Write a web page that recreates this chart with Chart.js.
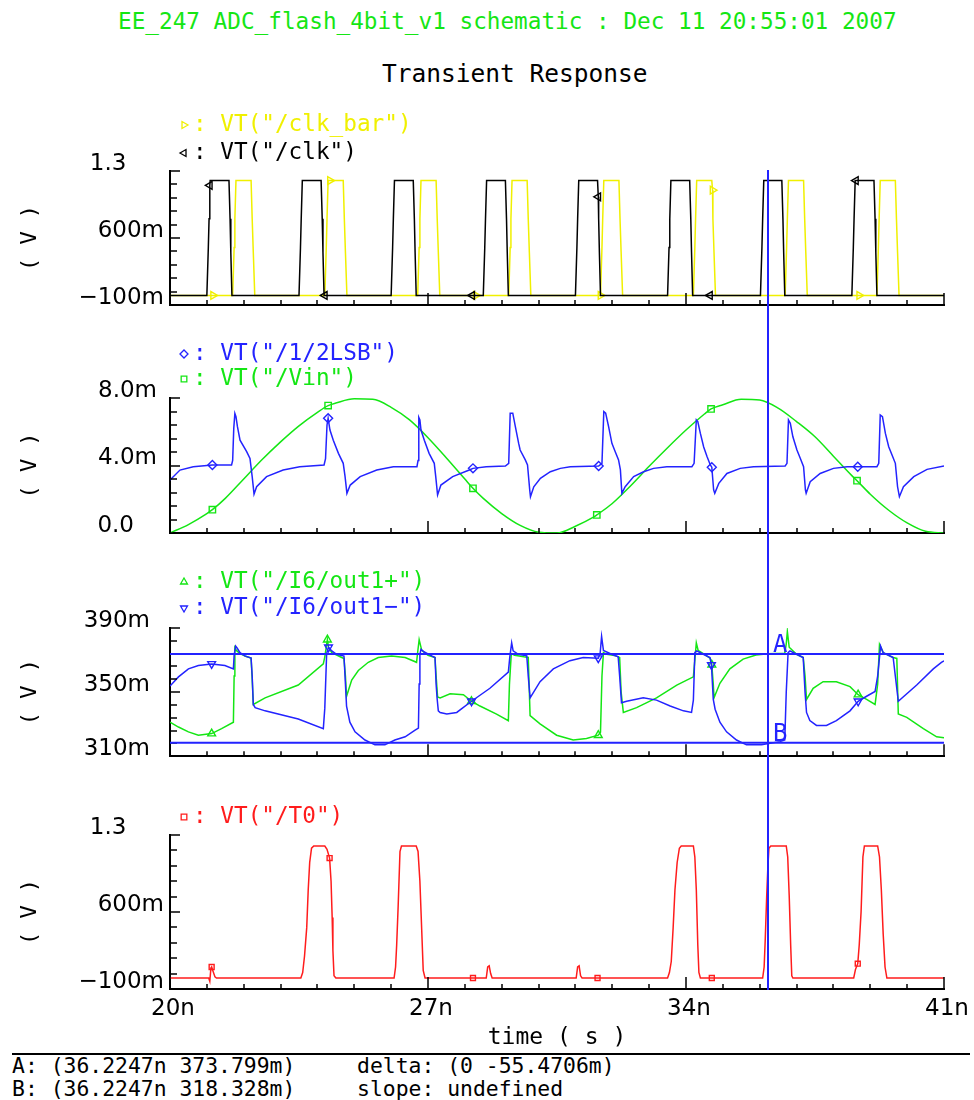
<!DOCTYPE html>
<html>
<head>
<meta charset="utf-8">
<script src="https://cdn.jsdelivr.net/npm/chart.js@4.4.0/dist/chart.umd.min.js"></script>
<style>
  body { margin: 0; background: #fff; }
  #page { position: relative; width: 974px; height: 1100px; overflow: hidden; font-family: "DejaVu Sans Mono", monospace; }
  .txt { position: absolute; white-space: pre; line-height: 1; }
  canvas { position: absolute; left: 0; }
</style>
</head>
<body>
<div id="page">
  <div class="txt" style="left:118px;top:10px;font-size:22.7px;color:#14e614">EE_247 ADC_flash_4bit_v1 schematic : Dec 11 20:55:01 2007</div>
  <div class="txt" style="left:382px;top:62px;font-size:24.5px;color:#000">Transient Response</div>

  <canvas id="clkPanel" width="974" height="235" style="top:95px"></canvas>
  <canvas id="vinPanel" width="974" height="230" style="top:330px"></canvas>
  <canvas id="outPanel" width="974" height="230" style="top:560px"></canvas>
  <canvas id="t0Panel" width="974" height="262" style="top:790px"></canvas>

  <div style="position:absolute;left:12px;top:1053px;width:958px;border-top:2px solid #000"></div>
  <div class="txt" id="markA" style="left:12px;top:1055px;font-size:21.4px"></div>
  <div class="txt" id="markB" style="left:12px;top:1078px;font-size:21.4px"></div>
  <div class="txt" style="left:357px;top:1055px;font-size:21.4px">delta: (0 -55.4706m)</div>
  <div class="txt" style="left:357px;top:1078px;font-size:21.4px">slope: undefined</div>
</div>

<script>
// ---- shared time axis (ns) ----
const timeTicks = [20, 21, 22, 23, 24, 25, 26, 27, 28, 29, 30, 31, 32, 33, 34, 35, 36, 37, 38, 39, 40, 41];
const timeLabelTicks = [20, 27, 34, 41];
const timeLabels = ['20n', '27n', '34n', '41n'];

// cursor position and the two marked points on out1-/out1+ (mV)
const cursorT = 36.2247;
const cursorA = 373.799;
const cursorB = 318.328;

const GREEN = '#14e614';
const BLUE = '#2323ff';
const YELLOW = '#f0f000';
const RED = '#ff1c1c';
const BLACK = '#000000';

// ---- panel 1: clocks (V) ----
const clkBarPoints = [
  [20, 0], [21.17, 0],
  [21.7, 0], [21.74, 0.5], [21.76, 0.8], [21.79, 1.2], [22.2, 1.2], [22.23, 0.8], [22.26, 0.45], [22.3, 0],
  [24.2, 0], [24.24, 0.5], [24.26, 0.8], [24.29, 1.2], [24.34, 1.2], [24.7, 1.2], [24.73, 0.8], [24.76, 0.45], [24.8, 0],
  [26.72, 0], [26.76, 0.5], [26.78, 0.8], [26.81, 1.2], [27.22, 1.2], [27.25, 0.8], [27.28, 0.45], [27.32, 0],
  [28.3, 0],
  [29.19, 0], [29.23, 0.5], [29.25, 0.8], [29.28, 1.2], [29.69, 1.2], [29.72, 0.8], [29.75, 0.45], [29.79, 0],
  [31.68, 0], [31.72, 0.5], [31.74, 0.8], [31.77, 1.2], [32.18, 1.2], [32.21, 0.8], [32.24, 0.45], [32.28, 0],
  [34.2, 0], [34.24, 0.5], [34.26, 0.8], [34.29, 1.2], [34.7, 1.2], [34.72, 1.1], [34.73, 0.8], [34.76, 0.45], [34.8, 0],
  [36.69, 0], [36.73, 0.5], [36.75, 0.8], [36.78, 1.2], [37.19, 1.2], [37.22, 0.8], [37.25, 0.45], [37.29, 0],
  [38.7, 0],
  [39.18, 0], [39.22, 0.5], [39.24, 0.8], [39.27, 1.2], [39.68, 1.2], [39.71, 0.8], [39.74, 0.45], [39.78, 0],
  [41, 0]
];
const clkBarMarks = [21.17, 24.34, 28.3, 31.68, 34.72, 38.7];

const clkPoints = [
  [20, 0],
  [21.0, 0], [21.04, 0.5], [21.06, 0.8], [21.08, 1.15], [21.09, 1.2], [21.6, 1.2], [21.63, 0.8], [21.65, 0.45], [21.68, 0],
  [23.5, 0], [23.54, 0.5], [23.56, 0.8], [23.59, 1.2], [24.1, 1.2], [24.13, 0.8], [24.15, 0.45], [24.18, 0], [24.2, 0],
  [26.0, 0], [26.04, 0.5], [26.06, 0.8], [26.09, 1.2], [26.6, 1.2], [26.63, 0.8], [26.65, 0.45], [26.68, 0],
  [28.2, 0],
  [28.5, 0], [28.54, 0.5], [28.56, 0.8], [28.59, 1.2], [29.1, 1.2], [29.13, 0.8], [29.15, 0.45], [29.18, 0],
  [31.0, 0], [31.04, 0.5], [31.06, 0.8], [31.09, 1.2], [31.6, 1.2], [31.62, 1.03], [31.63, 0.8], [31.65, 0.45], [31.68, 0],
  [33.5, 0], [33.54, 0.5], [33.56, 0.8], [33.59, 1.2], [34.1, 1.2], [34.13, 0.8], [34.15, 0.45], [34.18, 0],
  [34.65, 0],
  [36.02, 0], [36.06, 0.5], [36.08, 0.8], [36.11, 1.2], [36.6, 1.2], [36.63, 0.8], [36.65, 0.45], [36.68, 0],
  [38.5, 0], [38.54, 0.5], [38.56, 0.8], [38.59, 1.2], [38.61, 1.2], [39.1, 1.2], [39.13, 0.8], [39.15, 0.45], [39.18, 0],
  [41, 0]
];
const clkMarks = [21.08, 24.2, 28.2, 31.62, 34.65, 38.61];

// ---- panel 2: reference and input (mV) ----
const lsbPoints = [
  [20, 3.14], [20.27, 3.73], [20.63, 3.93], [21.15, 4.03], [21.67, 4.03],
  [21.7, 4.3], [21.73, 6.2], [21.76, 7.09], [21.79, 6.9], [21.83, 6.3], [21.9, 5.5], [22.08, 4.82], [22.17, 4.42], [22.23, 3.34], [22.28, 2.3],
  [22.35, 2.74], [22.62, 3.34], [23.07, 3.73], [23.52, 3.93], [24.18, 4.03],
  [24.22, 4.4], [24.26, 6.4], [24.29, 6.8], [24.34, 6.1], [24.43, 5.5], [24.57, 4.72], [24.7, 4.13], [24.75, 3.34], [24.8, 2.35],
  [24.89, 2.84], [25.16, 3.34], [25.61, 3.73], [26.06, 3.93], [26.7, 3.93],
  [26.73, 4.3], [26.75, 6.85], [26.78, 6.7], [26.81, 6.1], [26.9, 5.5], [27.03, 4.72], [27.17, 4.13], [27.21, 3.34], [27.26, 2.25],
  [27.35, 2.84], [27.67, 3.34], [28.12, 3.73], [28.22, 3.83], [28.58, 3.93], [29.1, 3.97],
  [29.19, 4.13], [29.23, 7.1], [29.3, 7.1], [29.37, 6.3], [29.46, 5.31], [29.5, 4.92], [29.64, 4.33], [29.7, 4.03], [29.76, 2.55], [29.78, 2.15],
  [29.87, 2.74], [30.05, 3.24], [30.32, 3.63], [30.59, 3.83], [30.86, 3.93], [31.63, 3.97],
  [31.72, 4.13], [31.77, 7.19], [31.82, 7.1], [31.9, 6.3], [31.99, 5.31], [32.08, 4.82], [32.17, 4.33], [32.22, 3.74], [32.26, 2.35],
  [32.35, 2.74], [32.58, 3.34], [32.85, 3.63], [33.12, 3.83], [33.48, 3.93], [34.16, 3.93],
  [34.22, 4.13], [34.28, 6.7], [34.32, 6.6], [34.39, 5.9], [34.48, 5.1], [34.57, 4.53], [34.66, 4.03], [34.7, 3.9], [34.75, 2.55], [34.78, 2.35],
  [34.89, 2.94], [35.11, 3.53], [35.47, 3.83], [35.83, 3.93], [36.69, 3.97],
  [36.74, 4.13], [36.78, 6.7], [36.83, 6.5], [36.9, 5.7], [37.01, 4.92], [37.1, 4.43], [37.19, 3.93], [37.24, 2.55], [37.26, 2.35],
  [37.37, 3.04], [37.64, 3.53], [38.0, 3.83], [38.37, 3.93], [38.66, 3.93], [39.18, 3.93],
  [39.23, 4.13], [39.27, 7.0], [39.33, 6.9], [39.41, 5.9], [39.5, 5.11], [39.59, 4.62], [39.68, 4.13], [39.74, 2.74], [39.79, 2.15],
  [39.9, 2.74], [40.18, 3.34], [40.54, 3.77], [41, 3.97]
];
const lsbMarks = [21.15, 24.29, 28.22, 31.63, 34.7, 38.66];

const vinPoints = [
  [20.0, 0.00], [20.5, 0.50], [21.0, 1.15], [21.15, 1.38], [21.5, 2.05], [22.0, 3.20], [22.5, 4.35], [23.0, 5.40],
  [23.5, 6.35], [24.0, 7.15], [24.29, 7.55], [24.5, 7.70], [25.0, 7.95], [25.5, 7.92], [26.0, 7.45], [26.5, 6.70],
  [27.0, 5.65], [27.5, 4.45], [28.0, 3.20], [28.22, 2.65], [28.5, 2.05], [29.0, 1.15], [29.5, 0.45], [30.0, 0.05],
  [30.5, 0.00], [31.0, 0.40], [31.5, 0.95], [31.58, 1.07], [32.0, 1.75], [32.5, 2.80], [33.0, 3.95], [33.5, 5.05],
  [34.0, 6.10], [34.5, 7.05], [34.68, 7.35], [35.0, 7.60], [35.5, 7.92], [36.0, 7.88], [36.5, 7.40], [37.0, 6.60],
  [37.5, 5.70], [38.0, 4.55], [38.5, 3.40], [38.64, 3.10], [39.0, 2.30], [39.5, 1.35], [40.0, 0.60], [40.5, 0.10],
  [41.0, 0.00]
];
const vinMarks = [21.15, 24.29, 28.22, 31.58, 34.68, 38.64];

// ---- panel 3: comparator outputs (mV) ----
const outPlusPoints = [
  [20, 331.2], [20.23, 328.2], [20.5, 325.2], [20.77, 323.1], [21.13, 324.1], [21.4, 327.2], [21.72, 331.2],
  [21.74, 360], [21.76, 377.7], [21.8, 376], [21.9, 374], [22.05, 372.4], [22.2, 371.2], [22.23, 358], [22.26, 342.3],
  [22.58, 346.4], [23.48, 354.4], [24.16, 367.6],
  [24.2, 372], [24.27, 382.7], [24.3, 378], [24.39, 374.6], [24.66, 371.6], [24.72, 371], [24.76, 360], [24.79, 347.4],
  [24.93, 357.5], [25.11, 363.5], [25.38, 368.6], [25.65, 371.6], [26.01, 372.6], [26.38, 371.6], [26.69, 368.6],
  [26.72, 375], [26.76, 382.7], [26.83, 376], [27.0, 373], [27.19, 371.6], [27.22, 360], [27.26, 347],
  [27.33, 346.4], [27.6, 349], [27.96, 348.4], [28.18, 344.3], [28.41, 341.3], [28.86, 336.3], [29.18, 332.2],
  [29.21, 355], [29.26, 374], [29.35, 373], [29.6, 372], [29.72, 371.6], [29.75, 350], [29.77, 335.3],
  [30.04, 330.2], [30.49, 323.1], [30.94, 320.1], [31.3, 321.1], [31.62, 323.1], [31.68, 325],
  [31.72, 360], [31.76, 374.6], [31.85, 373.6], [32.1, 372.6], [32.2, 371.6], [32.24, 350], [32.3, 337.3],
  [32.66, 340.3], [33.2, 346.4], [33.75, 354.4], [34.2, 359.5],
  [34.24, 370], [34.28, 380.7], [34.33, 376], [34.5, 373.6], [34.66, 371], [34.7, 367], [34.74, 355], [34.76, 346.4],
  [34.92, 355.5], [35.19, 364.5], [35.55, 370.6], [35.9, 373.2], [36.23, 374], [36.68, 374.3],
  [36.72, 380], [36.75, 387.8], [36.8, 378], [37.0, 373.6], [37.18, 371.6], [37.23, 360], [37.27, 345.4],
  [37.45, 352.4], [37.72, 356.5], [38.08, 356.5], [38.45, 353.4], [38.67, 348.4], [38.9, 345.4], [39.13, 342.3],
  [39.2, 355], [39.25, 379.7], [39.35, 374.6], [39.62, 371.6], [39.72, 371], [39.76, 336.3],
  [39.99, 334.2], [40.44, 327.2], [40.8, 322.1], [41, 321.5]
];
const outPlusMarks = [21.13, 24.27, 28.18, 31.62, 34.7, 38.67];

const outMinusPoints = [
  [20, 353.8], [20.23, 359.5], [20.5, 364.5], [20.77, 366.6], [21.13, 367.6], [21.49, 366.6], [21.72, 364.5],
  [21.74, 373], [21.78, 378.7], [21.82, 377.5], [21.9, 374.6], [22.03, 372.6], [22.2, 371.2], [22.23, 360], [22.26, 342.3], [22.31, 340.3],
  [22.58, 338.3], [23.48, 333.2], [24.16, 327.2],
  [24.2, 340], [24.25, 374], [24.3, 378], [24.39, 375.7], [24.52, 373.6], [24.72, 372.5], [24.76, 355], [24.79, 341.3],
  [24.88, 331.2], [25.02, 325.2], [25.29, 320.1], [25.56, 317.1], [25.83, 317.1], [26.1, 320.1], [26.38, 322.1], [26.65, 326.2], [26.74, 327.5],
  [26.76, 355], [26.78, 373.6], [26.81, 376.7], [26.9, 375], [27.1, 372.6], [27.19, 371.6], [27.22, 355], [27.25, 345.4], [27.28, 338.3],
  [27.33, 337.3], [27.51, 336.3], [27.78, 337.3], [28.18, 344.3], [28.68, 352.4], [29.18, 362.5],
  [29.22, 372], [29.27, 380.7], [29.31, 375.7], [29.45, 373.6], [29.68, 372.6], [29.72, 360], [29.77, 346.4],
  [30.04, 356.5], [30.4, 364.5], [30.85, 369.6], [31.21, 371.6], [31.62, 371.2], [31.67, 374],
  [31.71, 384.7], [31.76, 376], [31.98, 373.6], [32.16, 372], [32.2, 360], [32.25, 343.3],
  [32.39, 344.3], [32.84, 346.4], [33.2, 345], [33.57, 341.3], [33.93, 338.3], [34.15, 337.3],
  [34.2, 345], [34.24, 374.6], [34.29, 375.7], [34.47, 373.6], [34.65, 371.6], [34.69, 367], [34.74, 345.4],
  [34.79, 339.3], [34.92, 331.2], [35.1, 325.2], [35.37, 320.1], [35.64, 317.1], [36.05, 317.1], [36.28, 318.1], [36.55, 319.1], [36.68, 320.1],
  [36.72, 350], [36.77, 374.6], [36.82, 375.7], [37.0, 373.6], [37.18, 371.6], [37.23, 350], [37.27, 337.3],
  [37.36, 332.2], [37.54, 329.2], [37.81, 329.2], [38.08, 332.2], [38.45, 338.3], [38.67, 344.3], [38.9, 347.4], [39.13, 350.4],
  [39.2, 360], [39.28, 378.7], [39.35, 374.6], [39.62, 371.6], [39.68, 360], [39.76, 344.3],
  [40.26, 354.4], [40.71, 364.5], [40.93, 368.6], [41, 369.5]
];
const outMinusMarks = [21.13, 24.3, 28.18, 31.62, 34.69, 38.67];

// ---- panel 4: thermometer bit T0 (V) ----
const t0Points = [
  [20, 0], [21.05, 0], [21.08, -0.03], [21.11, 0.09], [21.13, 0.1], [21.17, 0.06], [21.22, 0.01], [21.26, 0],
  [23.55, 0], [23.6, 0.05], [23.65, 0.2], [23.71, 0.46], [23.75, 0.8], [23.79, 1.05], [23.84, 1.18], [23.9, 1.2], [24.2, 1.2],
  [24.26, 1.17], [24.33, 1.09], [24.37, 0.88], [24.4, 0.55], [24.42, 0.25], [24.45, 0.02], [24.5, 0],
  [26.08, 0], [26.12, 0.1], [26.15, 0.3], [26.19, 0.65], [26.24, 1.15], [26.28, 1.2], [26.68, 1.2], [26.73, 1.15], [26.78, 0.88],
  [26.83, 0.43], [26.87, 0.07], [26.92, 0],
  [28.22, 0], [28.58, 0], [28.62, 0.1], [28.66, 0.11], [28.7, 0.04], [28.74, 0],
  [31.02, 0], [31.06, 0.1], [31.1, 0.11], [31.14, 0.02], [31.18, 0], [31.6, 0],
  [33.5, 0], [33.55, 0.05], [33.6, 0.15], [33.65, 0.45], [33.7, 0.8], [33.76, 1.05], [33.82, 1.18], [33.87, 1.2], [34.2, 1.2],
  [34.24, 1.1], [34.28, 0.8], [34.32, 0.3], [34.35, 0.05], [34.39, 0], [34.7, 0],
  [36.08, 0], [36.12, 0.1], [36.15, 0.35], [36.19, 0.75], [36.22, 1.0], [36.25, 1.18], [36.3, 1.2], [36.72, 1.2], [36.76, 1.1],
  [36.8, 0.75], [36.84, 0.3], [36.87, 0.02], [36.9, 0],
  [38.55, 0], [38.6, 0.08], [38.66, 0.13], [38.7, 0.3], [38.75, 0.6], [38.8, 1.1], [38.84, 1.2], [39.2, 1.2], [39.25, 1.1],
  [39.3, 0.8], [39.35, 0.4], [39.4, 0.1], [39.45, 0], [41, 0]
];
const t0Marks = [21.13, 24.33, 28.22, 31.6, 34.7, 38.66];

// y axis labels per panel (trailing spaces keep the suffix column)
const voltLabelValues = [-0.1, 0.6, 1.3];
const voltLabels = ['\u2212100m', '600m', '1.3\u2003\u2007'];
const milliLabelValues = [0, 4, 8];
const milliLabels = ['0.0\u2003', '4.0m', '8.0m'];
const outLabelValues = [310, 350, 390];
const outLabels = ['310m', '350m', '390m'];

document.getElementById('markA').textContent = `A: (${cursorT}n ${cursorA}m)`;
document.getElementById('markB').textContent = `B: (${cursorT}n ${cursorB}m)`;

Chart.defaults.font.family = 'DejaVu Sans';
Chart.defaults.color = '#000';

const MONO = '"DejaVu Sans Mono", monospace';

// axis ticks pointing into the plot, legend rows, cursor and A/B lines
const traceDecor = {
  id: 'traceDecor',
  afterDraw(chart, args, opts) {
    const { ctx, chartArea, scales } = chart;
    const { left, right, top, bottom } = chartArea;
    const xs = scales.x, ys = scales.y;
    ctx.save();

    ctx.strokeStyle = BLACK;
    ctx.lineWidth = 1.5;
    ctx.beginPath();
    ys.ticks.forEach(tk => {
      const py = Math.round(ys.getPixelForValue(tk.value));
      ctx.moveTo(left, py);
      ctx.lineTo(left + (tk.label ? 10 : 7), py);
    });
    xs.ticks.forEach(tk => {
      const px = Math.round(xs.getPixelForValue(tk.value));
      ctx.moveTo(px, bottom);
      ctx.lineTo(px, bottom - (timeLabelTicks.includes(tk.value) ? 12 : 5));
    });
    ctx.stroke();

    // legend: marker glyph, then ": " and the trace name
    ctx.font = '22.7px ' + MONO;
    ctx.textBaseline = 'middle';
    ctx.textAlign = 'left';
    chart.data.datasets.forEach((ds, i) => {
      const ly = opts.legendY[i];
      ctx.strokeStyle = ds.borderColor;
      ctx.fillStyle = 'rgba(0,0,0,0)';
      ctx.lineWidth = 1.3;
      Chart.helpers.drawPoint(ctx, { pointStyle: ds.pointStyle, rotation: ds.pointRotation || 0, radius: 4, borderWidth: 1.3 }, 184, ly);
      ctx.fillStyle = ds.borderColor;
      ctx.fillText(': ' + ds.label, 193, ly);
    });

    // vertical cursor through every panel
    const cx = xs.getPixelForValue(cursorT);
    ctx.strokeStyle = BLUE;
    ctx.lineWidth = 2;
    ctx.beginPath();
    ctx.moveTo(cx, opts.fromTop ? top - 1 : 0);
    ctx.lineTo(cx, opts.toBottom ? bottom + 1 : chart.height);
    ctx.stroke();

    if (opts.markers) {
      const ya = ys.getPixelForValue(cursorA);
      const yb = ys.getPixelForValue(cursorB);
      ctx.beginPath();
      ctx.moveTo(left, ya); ctx.lineTo(right, ya);
      ctx.moveTo(left, yb); ctx.lineTo(right, yb);
      ctx.stroke();
      ctx.fillStyle = BLUE;
      ctx.font = '24px ' + MONO;
      ctx.textBaseline = 'alphabetic';
      ctx.fillText('A', cx + 5, ya - 2);
      ctx.fillText('B', cx + 5, yb - 2);
    }
    ctx.restore();
  }
};

function trace(label, points, color, marks, style, rotation, order, extra) {
  return Object.assign({
    label: label,
    data: points,
    borderColor: color,
    borderWidth: 1.5,
    pointStyle: style,
    pointRotation: rotation,
    pointBorderColor: color,
    pointBackgroundColor: 'rgba(0,0,0,0)',
    pointBorderWidth: 1.4,
    pointRadius: c => (c.raw && marks.includes(c.raw[0])) ? 4.5 : 0,
    order: order
  }, extra || {});
}

function evenTicks(min, max, n) {
  const out = [];
  for (let i = 0; i <= n; i++) out.push(+(min + (max - min) * i / n).toFixed(6));
  return out;
}

function makePanel(id, p) {
  const yTicks = evenTicks(p.yMin, p.yMax, 10);
  return new Chart(document.getElementById(id), {
    type: 'line',
    data: { datasets: p.datasets },
    options: {
      responsive: false,
      animation: false,
      events: [],
      devicePixelRatio: 1,
      layout: { padding: { left: 0, right: 30, top: p.top, bottom: 0 } },
      plugins: {
        legend: { display: false },
        tooltip: { enabled: false },
        traceDecor: { legendY: p.legendY, fromTop: p.fromTop, toBottom: p.toBottom, markers: p.markers }
      },
      scales: {
        x: {
          type: 'linear',
          min: 20,
          max: 41,
          afterBuildTicks: s => { s.ticks = timeTicks.map(v => ({ value: v })); },
          afterFit: s => { s.height = p.xHeight; },
          grid: { display: false, drawTicks: false },
          border: { display: true, color: BLACK, width: 2 },
          ticks: {
            display: p.timeLabels,
            autoSkip: false,
            maxRotation: 0,
            minRotation: 0,
            padding: 6,
            labelOffset: 3,
            font: { size: 23 },
            callback: v => {
              const i = timeLabelTicks.indexOf(v);
              return i < 0 ? '' : timeLabels[i];
            }
          },
          title: {
            display: p.timeLabels,
            text: 'time ( s )',
            font: { family: MONO, size: 23 },
            padding: { top: 0, bottom: 0 }
          }
        },
        y: {
          type: 'linear',
          min: p.yMin,
          max: p.yMax,
          afterBuildTicks: s => { s.ticks = yTicks.map(v => ({ value: v })); },
          afterFit: s => { s.width = 170; },
          grid: { display: false, drawTicks: false },
          border: { display: true, color: BLACK, width: 2 },
          ticks: {
            autoSkip: false,
            padding: p.labelPad,
            labelOffset: -7,
            font: { size: 23 },
            callback: v => {
              const i = p.labelValues.findIndex(l => Math.abs(l - v) < 1e-6);
              return i < 0 ? '' : p.labelTexts[i];
            }
          },
          title: {
            display: true,
            text: '( V )',
            font: { family: MONO, size: 22 },
            padding: { top: 17, bottom: 0 }
          }
        }
      }
    },
    plugins: [traceDecor]
  });
}

makePanel('clkPanel', {
  datasets: [
    trace('VT("/clk_bar")', clkBarPoints, YELLOW, clkBarMarks, 'triangle', 90, 1),
    trace('VT("/clk")', clkPoints, BLACK, clkMarks, 'triangle', 270, 0)
  ],
  yMin: -0.1, yMax: 1.3, labelValues: voltLabelValues, labelTexts: voltLabels, labelPad: 6,
  top: 76, xHeight: 25, legendY: [30, 58], fromTop: true, toBottom: false, timeLabels: false
});

makePanel('vinPanel', {
  datasets: [
    trace('VT("/1/2LSB")', lsbPoints, BLUE, lsbMarks, 'rectRot', 0, 0),
    trace('VT("/Vin")', vinPoints, GREEN, vinMarks, 'rect', 0, 1, { cubicInterpolationMode: 'monotone' })
  ],
  yMin: 0, yMax: 8, labelValues: milliLabelValues, labelTexts: milliLabels, labelPad: 13,
  top: 68, xHeight: 27, legendY: [24, 49], fromTop: false, toBottom: false, timeLabels: false
});

makePanel('outPanel', {
  datasets: [
    trace('VT("/I6/out1+")', outPlusPoints, GREEN, outPlusMarks, 'triangle', 0, 1),
    trace('VT("/I6/out1\u2212")', outMinusPoints, BLUE, outMinusMarks, 'triangle', 180, 0)
  ],
  yMin: 310, yMax: 390, labelValues: outLabelValues, labelTexts: outLabels, labelPad: 20,
  top: 68, xHeight: 30, legendY: [22, 48], fromTop: false, toBottom: false, timeLabels: false, markers: true
});

makePanel('t0Panel', {
  datasets: [
    trace('VT("/T0")', t0Points, RED, t0Marks, 'rect', 0, 0, { pointRadius: c => (c.raw && t0Marks.includes(c.raw[0])) ? 3.5 : 0 })
  ],
  yMin: -0.1, yMax: 1.3, labelValues: voltLabelValues, labelTexts: voltLabels, labelPad: 6,
  top: 45, xHeight: 63, legendY: [27], fromTop: false, toBottom: true, timeLabels: true
});
</script>
</body>
</html>
